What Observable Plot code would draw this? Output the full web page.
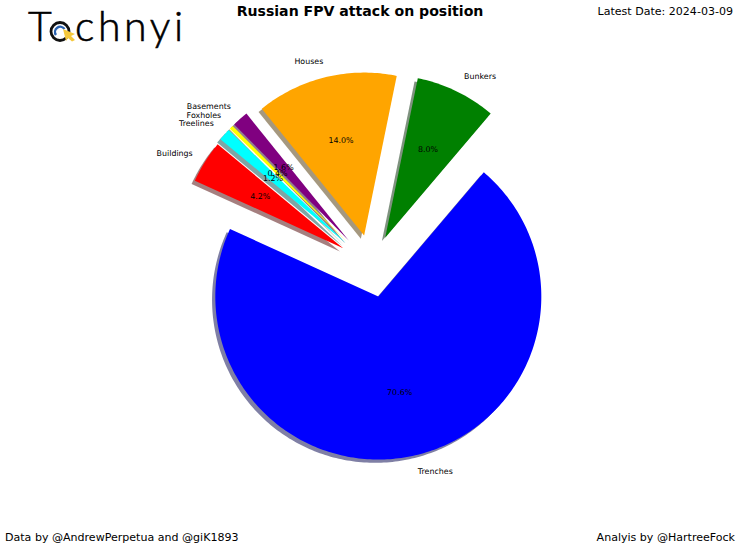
<!DOCTYPE html>
<html>
<head>
<meta charset="utf-8">
<script src="https://cdn.jsdelivr.net/npm/d3@7"></script>
<script src="https://cdn.jsdelivr.net/npm/@observablehq/plot@0.6"></script>
<style>
  html, body { margin: 0; padding: 0; background: #fff; }
  #page { position: relative; width: 740px; height: 550px; overflow: hidden; font-family: "DejaVu Sans", sans-serif; color: #000; }
  #page > div { position: absolute; white-space: nowrap; }
  #chart { left: 0; top: 0; }
  #title { left: 0; width: 720px; top: 2px; text-align: center; font-weight: bold; font-size: 14.1px; line-height: 18px; }
  #date { right: 7px; top: 4px; font-size: 11.05px; line-height: 16px; }
  #credit { left: 5px; top: 530px; font-size: 11.05px; line-height: 16px; }
  #analysis { right: 5px; top: 530px; font-size: 11.05px; line-height: 16px; }
  #logo { left: 0; top: 0; width: 200px; height: 60px; }
</style>
</head>
<body>
<div id="page">
  <div id="chart"></div>
  <div id="logo">
    <svg width="200" height="60" viewBox="0 0 200 60">
      <text x="28" y="41" font-family="Lato" font-weight="300" font-size="41" stroke="#000" stroke-width="0.6">T</text>
      <circle cx="60" cy="31.5" r="9" fill="none" stroke="#111" stroke-width="2.8"/>
      <path d="M 56 35 A 5 5 0 1 1 64.5 29" fill="none" stroke="#2a62b0" stroke-width="2.4"/>
      <path d="M 63 29 L 75 34 L 71 36 L 75 40 L 72 41.5 L 68 38 L 66 41 Z" fill="#f5c83c"/>
      <text x="75" y="41" font-family="Lato" font-weight="300" font-size="41" letter-spacing="3.6" stroke="#000" stroke-width="0.6">chnyi</text>
    </svg>
  </div>
  <div id="title">Russian FPV attack on position</div>
  <div id="date">Latest Date: 2024-03-09</div>
  <div id="credit">Data by @AndrewPerpetua and @giK1893</div>
  <div id="analysis">Analyis by @HartreeFock</div>
</div>
<script>
const categories = ["Trenches", "Bunkers", "Houses", "Basements", "Foxholes", "Treelines", "Buildings"];
const shares = [70.6, 8.0, 14.0, 1.6, 0.4, 1.2, 4.2];
const colors = ["blue", "green", "orange", "purple", "yellow", "cyan", "red"];
const shadowColors = ["#00004c", "#002600", "#4c3100", "#260026", "#4c4c00", "#004c4c", "#4c0000"];
const explodes = [0.192, 0.192, 0.192, 0.21, 0.21, 0.21, 0.205];

const startDeg = 155.5;
const shadowShift = 0.02;
const labelDistance = 1.1;
const pctDistance = 0.6;

const total = d3.sum(shares);
let cursor = startDeg;
const wedges = categories.map((name, i) => {
  const a0 = cursor;
  const a1 = cursor + (shares[i] / total) * 360;
  cursor = a1;
  const mid = ((a0 + a1) / 2) * Math.PI / 180;
  const ox = explodes[i] * Math.cos(mid), oy = explodes[i] * Math.sin(mid);
  return {
    name, a0, a1, ox, oy,
    color: colors[i],
    shadow: shadowColors[i],
    pct: shares[i].toFixed(1) + "%",
    lx: ox + labelDistance * Math.cos(mid),
    ly: oy + labelDistance * Math.sin(mid),
    px: ox + pctDistance * Math.cos(mid),
    py: oy + pctDistance * Math.sin(mid)
  };
});

const outline = [];
wedges.forEach((w) => {
  outline.push({ name: w.name, color: w.color, shadow: w.shadow, x: w.ox, y: w.oy });
  const steps = Math.max(2, Math.ceil(w.a1 - w.a0));
  for (let k = 0; k <= steps; k++) {
    const t = (w.a0 + (w.a1 - w.a0) * k / steps) * Math.PI / 180;
    outline.push({ name: w.name, color: w.color, shadow: w.shadow, x: w.ox + Math.cos(t), y: w.oy + Math.sin(t) });
  }
});

const unit = 163, cx = 371, cy = 265.5;
const chart = Plot.plot({
  width: 740, height: 550,
  margin: 0,
  style: { background: "transparent", overflow: "visible" },
  x: { type: "linear", domain: [-cx / unit, (740 - cx) / unit], range: [0, 740], axis: null },
  y: { type: "linear", domain: [-(550 - cy) / unit, cy / unit], range: [550, 0], axis: null },
  color: { type: "identity" },
  marks: [
    Plot.line(outline, {
      x: (d) => d.x - shadowShift, y: (d) => d.y - shadowShift, z: "name",
      fill: "shadow", fillOpacity: 0.5, stroke: "none", curve: "linear-closed"
    }),
    Plot.line(outline, {
      x: "x", y: "y", z: "name",
      fill: "color", stroke: "none", curve: "linear-closed"
    }),
    Plot.text(wedges.filter((w) => w.lx >= 0), {
      x: "lx", y: "ly", text: "name", textAnchor: "start", lineAnchor: "middle", dx: 0.5,
      fontSize: 7.9, fontFamily: "DejaVu Sans", fill: "black"
    }),
    Plot.text(wedges.filter((w) => w.lx < 0), {
      x: "lx", y: "ly", text: "name", textAnchor: "end", lineAnchor: "middle", dx: 1.5,
      fontSize: 7.9, fontFamily: "DejaVu Sans", fill: "black"
    }),
    Plot.text(wedges, {
      x: "px", y: "py", text: "pct", textAnchor: "middle", lineAnchor: "middle",
      fontSize: 7.9, fontFamily: "DejaVu Sans", fill: "black"
    })
  ]
});
document.getElementById("chart").appendChild(chart);
</script>
</body>
</html>
